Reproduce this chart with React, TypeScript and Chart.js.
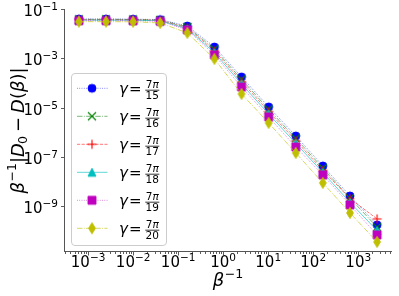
import React, { useEffect, useRef } from 'react';
import { Chart, registerables } from 'chart.js';

Chart.register(...registerables);

// ---- data ----
const betaInv = [1 / 1600, 1 / 400, 1 / 100, 1 / 25, 0.16, 0.64, 2.56, 10.24, 40.96, 163.84, 655.36, 2621.44];

const d15 = [0.0404, 0.0404, 0.0398, 0.038, 0.0209, 2.93e-3, 1.77e-4, 1.07e-5, 7.08e-7, 4.27e-8, 2.58e-9, 1.71e-10];
const d16 = [0.0389, 0.0389, 0.0384, 0.0366, 0.0191, 2.4e-3, 1.41e-4, 8.51e-6, 5.62e-7, 3.47e-8, 2.09e-9, 1.38e-10];
const d17 = [0.0376, 0.0376, 0.0371, 0.0353, 0.0174, 2.04e-3, 1.15e-4, 6.92e-6, 4.57e-7, 2.82e-8, 2.0e-9, 2.99e-10];
const d18 = [0.0363, 0.0363, 0.0358, 0.034, 0.0158, 1.7e-3, 9.12e-5, 5.5e-6, 3.55e-7, 2.29e-8, 1.41e-9, 1.0e-10];
const d19 = [0.0344, 0.0344, 0.0339, 0.0324, 0.0144, 1.39e-3, 6.93e-5, 4.19e-6, 2.52e-7, 1.84e-8, 1.11e-9, 6.68e-11];
const d20 = [0.0313, 0.0313, 0.0309, 0.0277, 0.0109, 9.55e-4, 3.61e-5, 2.39e-6, 1.44e-7, 8.69e-9, 5.24e-10, 3.48e-11];

const seriesValues = [d15, d16, d17, d18, d19, d20];
const gammaNumerator = '7π';
const gammaDenominators = ['15', '16', '17', '18', '19', '20'];
const seriesColors = ['#0000ff', '#008000', '#ff0000', '#00bfbf', '#bf00bf', '#bfbf00'];
const seriesLineColors = [
  'rgba(0,0,255,0.6)',
  'rgba(0,128,0,0.6)',
  'rgba(255,0,0,0.6)',
  'rgba(0,191,191,0.7)',
  'rgba(191,0,191,0.6)',
  'rgba(191,191,0,0.7)',
];
const seriesMarkers = ['o', 'x', '+', '^', 's', 'd'];
const seriesDashes: number[][] = [
  [0.86, 1.42],
  [5.5, 1.38, 0.86, 1.38],
  [3.2, 1.38],
  [],
  [0.86, 1.42],
  [5.5, 1.38, 0.86, 1.38],
];

const xLimits = [2.917e-4, 5623];
const yLimits = [1.349e-11, 0.1023];
const xMajorExps = [-3, -2, -1, 0, 1, 2, 3];
const yMajorExps = [-1, -3, -5, -7, -9];

const FF = '"DejaVu Sans"';
const up = (s: number) => `${s}px ${FF}`;
const it = (s: number) => `italic ${s}px ${FF}`;

function makeMarker(shape: string, color: string): HTMLCanvasElement {
  const c = document.createElement('canvas');
  c.width = 16;
  c.height = 16;
  const ctx = c.getContext('2d')!;
  ctx.translate(8, 8);
  ctx.fillStyle = color;
  ctx.strokeStyle = color;
  ctx.lineWidth = 0.9;
  ctx.beginPath();
  if (shape === 'o') {
    ctx.arc(0, 0, 4, 0, Math.PI * 2);
    ctx.fill();
    ctx.stroke();
  } else if (shape === 'x') {
    ctx.lineWidth = 1.1;
    ctx.moveTo(-4, -4); ctx.lineTo(4, 4);
    ctx.moveTo(-4, 4); ctx.lineTo(4, -4);
    ctx.stroke();
  } else if (shape === '+') {
    ctx.lineWidth = 1.1;
    ctx.moveTo(-4.5, 0); ctx.lineTo(4.5, 0);
    ctx.moveTo(0, -4.5); ctx.lineTo(0, 4.5);
    ctx.stroke();
  } else if (shape === '^') {
    ctx.moveTo(0, -4); ctx.lineTo(4, 4); ctx.lineTo(-4, 4); ctx.closePath();
    ctx.fill(); ctx.stroke();
  } else if (shape === 's') {
    ctx.rect(-4, -4, 8, 8);
    ctx.fill(); ctx.stroke();
  } else if (shape === 'd') {
    ctx.moveTo(0, -5.6); ctx.lineTo(3.4, 0); ctx.lineTo(0, 5.6); ctx.lineTo(-3.4, 0); ctx.closePath();
    ctx.fill(); ctx.stroke();
  }
  return c;
}

function drawPow(ctx: CanvasRenderingContext2D, exp: number, x: number, baseline: number, align: 'center' | 'right') {
  const base = '10';
  const sup = (exp < 0 ? '−' : '') + Math.abs(exp);
  ctx.font = up(15);
  const wb = ctx.measureText(base).width;
  ctx.font = up(10.5);
  const ws = ctx.measureText(sup).width;
  const total = wb + ws;
  const start = align === 'center' ? x - total / 2 : x - total;
  ctx.textAlign = 'left';
  ctx.textBaseline = 'alphabetic';
  ctx.font = up(15);
  ctx.fillText(base, start, baseline);
  ctx.font = up(10.5);
  ctx.fillText(sup, start + wb, baseline - 6);
}

type Seg = { t: string; f: string; dy?: number; gl?: number; gr?: number };

function drawSegs(ctx: CanvasRenderingContext2D, segs: Seg[], cx: number, baseline: number) {
  let total = 0;
  const widths = segs.map((s) => {
    ctx.font = s.f;
    const w = ctx.measureText(s.t).width;
    total += w + (s.gl || 0) + (s.gr || 0);
    return w;
  });
  let x = cx - total / 2;
  ctx.textAlign = 'left';
  ctx.textBaseline = 'alphabetic';
  segs.forEach((s, i) => {
    x += s.gl || 0;
    ctx.font = s.f;
    ctx.fillText(s.t, x, baseline + (s.dy || 0));
    x += widths[i] + (s.gr || 0);
  });
}

const markers = seriesColors.map((c, i) => makeMarker(seriesMarkers[i], c));

const mplPlugin = {
  id: 'mplDecor',
  afterDatasetsDraw(chart: any) {
    const ctx: CanvasRenderingContext2D = chart.ctx;
    const ca = chart.chartArea;
    const xs = chart.scales.x;
    const ys = chart.scales.y;
    ctx.save();
    // spines
    ctx.strokeStyle = '#555';
    ctx.lineWidth = 1;
    ctx.setLineDash([]);
    ctx.beginPath();
    ctx.moveTo(ca.left + 0.5, ca.top);
    ctx.lineTo(ca.left + 0.5, ca.bottom);
    ctx.moveTo(ca.left, ca.bottom - 0.5);
    ctx.lineTo(ca.right, ca.bottom - 0.5);
    ctx.stroke();

    // x ticks
    ctx.lineWidth = 0.8;
    ctx.strokeStyle = '#333';
    for (let e = -4; e <= 3; e++) {
      for (let k = 1; k <= 9; k++) {
        const v = k * Math.pow(10, e);
        if (v < xLimits[0] || v > xLimits[1]) continue;
        const px = Math.round(xs.getPixelForValue(v)) + 0.5;
        const len = k === 1 ? 3.5 : 2;
        ctx.beginPath();
        ctx.moveTo(px, ca.bottom);
        ctx.lineTo(px, ca.bottom + len);
        ctx.stroke();
      }
    }
    ctx.fillStyle = '#000';
    xMajorExps.forEach((e) => {
      const px = xs.getPixelForValue(Math.pow(10, e));
      drawPow(ctx, e, px, ca.bottom + 15, 'center');
    });

    // y ticks
    yMajorExps.forEach((e) => {
      const py = ys.getPixelForValue(Math.pow(10, e));
      const pyr = Math.round(py) + 0.5;
      ctx.beginPath();
      ctx.moveTo(ca.left - 3, pyr);
      ctx.lineTo(ca.left, pyr);
      ctx.stroke();
      drawPow(ctx, e, ca.left - 6, py + 7, 'right');
    });

    // x title
    drawSegs(
      ctx,
      [
        { t: 'β', f: it(18) },
        { t: '−1', f: up(12.6), dy: -8, gl: 0.5 },
      ],
      (ca.left + ca.right) / 2,
      ca.bottom + 34
    );

    // y title
    ctx.save();
    ctx.translate(23.5, (ca.top + ca.bottom) / 2);
    ctx.rotate(-Math.PI / 2);
    drawSegs(
      ctx,
      [
        { t: 'β', f: it(18) },
        { t: '−1', f: up(12.6), dy: -8, gl: 0.5 },
        { t: '|', f: up(18) },
        { t: 'D', f: it(18) },
        { t: '0', f: up(12.6), dy: 3.5, gl: -1 },
        { t: '−', f: up(18), gl: 4, gr: 4 },
        { t: 'D', f: it(18) },
        { t: '(', f: up(18) },
        { t: 'β', f: it(18) },
        { t: ')', f: up(18) },
        { t: '|', f: up(18) },
      ],
      0,
      0
    );
    ctx.restore();

    // legend
    const lx = 71.5, ly = 73.5, lw = 95, lh = 172;
    ctx.beginPath();
    (ctx as any).roundRect(lx, ly, lw, lh, 3.5);
    ctx.fillStyle = 'rgba(255,255,255,0.8)';
    ctx.fill();
    ctx.strokeStyle = '#cccccc';
    ctx.lineWidth = 1;
    ctx.stroke();

    gammaDenominators.forEach((den, i) => {
      const cy = 88.3 + 28 * i;
      ctx.strokeStyle = seriesLineColors[i];
      ctx.lineWidth = 0.9;
      ctx.setLineDash(seriesDashes[i]);
      ctx.beginPath();
      ctx.moveTo(77, cy);
      ctx.lineTo(107.5, cy);
      ctx.stroke();
      ctx.setLineDash([]);
      const m = markers[i];
      ctx.drawImage(m, 92 - m.width / 2, cy - m.height / 2);

      ctx.fillStyle = '#000';
      ctx.textAlign = 'left';
      ctx.textBaseline = 'alphabetic';
      ctx.font = it(15);
      ctx.fillText('γ', 119, cy + 6);
      ctx.font = up(15);
      ctx.fillText('=', 129, cy + 6);
      // fraction
      const fx = 152.2;
      ctx.font = up(10.5);
      const w7 = ctx.measureText('7').width;
      ctx.font = it(10.5);
      const wp = ctx.measureText('π').width;
      const nStart = fx - (w7 + wp) / 2;
      ctx.textAlign = 'left';
      ctx.font = up(10.5);
      ctx.fillText(gammaNumerator.charAt(0), nStart, cy - 0.8);
      ctx.font = it(10.5);
      ctx.fillText(gammaNumerator.slice(1), nStart + w7, cy - 0.8);
      ctx.textAlign = 'center';
      ctx.font = up(10.5);
      ctx.fillText(den, fx, cy + 10.7);
      ctx.strokeStyle = '#000';
      ctx.lineWidth = 0.8;
      ctx.beginPath();
      ctx.moveTo(145.3, cy + 1.9);
      ctx.lineTo(159.3, cy + 1.9);
      ctx.stroke();
    });
    ctx.restore();
  },
};

export default function App() {
  const ref = useRef<HTMLCanvasElement>(null);
  useEffect(() => {
    if (!ref.current) return;
    const datasets = seriesValues.map((vals, i) => ({
      label: `γ = ${gammaNumerator}/${gammaDenominators[i]}`,
      data: betaInv.map((x, j) => ({ x, y: vals[j] })),
      borderColor: seriesLineColors[i],
      backgroundColor: seriesColors[i],
      borderWidth: 0.9,
      borderDash: seriesDashes[i],
      pointStyle: markers[i],
      pointRadius: 5,
      pointHoverRadius: 5,
      fill: false,
      tension: 0,
      order: seriesValues.length - 1 - i,
    }));
    const chart = new Chart(ref.current, {
      type: 'line',
      data: { datasets },
      options: {
        animation: false,
        responsive: false,
        devicePixelRatio: 1,
        events: [],
        layout: { padding: { left: 64, top: 9, right: 7, bottom: 44 } },
        plugins: { legend: { display: false }, tooltip: { enabled: false }, title: { display: false } },
        scales: {
          x: { type: 'logarithmic', display: false, min: xLimits[0], max: xLimits[1], bounds: 'data' },
          y: { type: 'logarithmic', display: false, min: yLimits[0], max: yLimits[1], bounds: 'data' },
        },
      } as any,
      plugins: [mplPlugin],
    });
    return () => chart.destroy();
  }, []);
  return (
    <div style={{ position: 'absolute', left: 0, top: 0, width: 399, height: 296, background: '#fff' }}>
      <canvas ref={ref} width={399} height={296} />
    </div>
  );
}
